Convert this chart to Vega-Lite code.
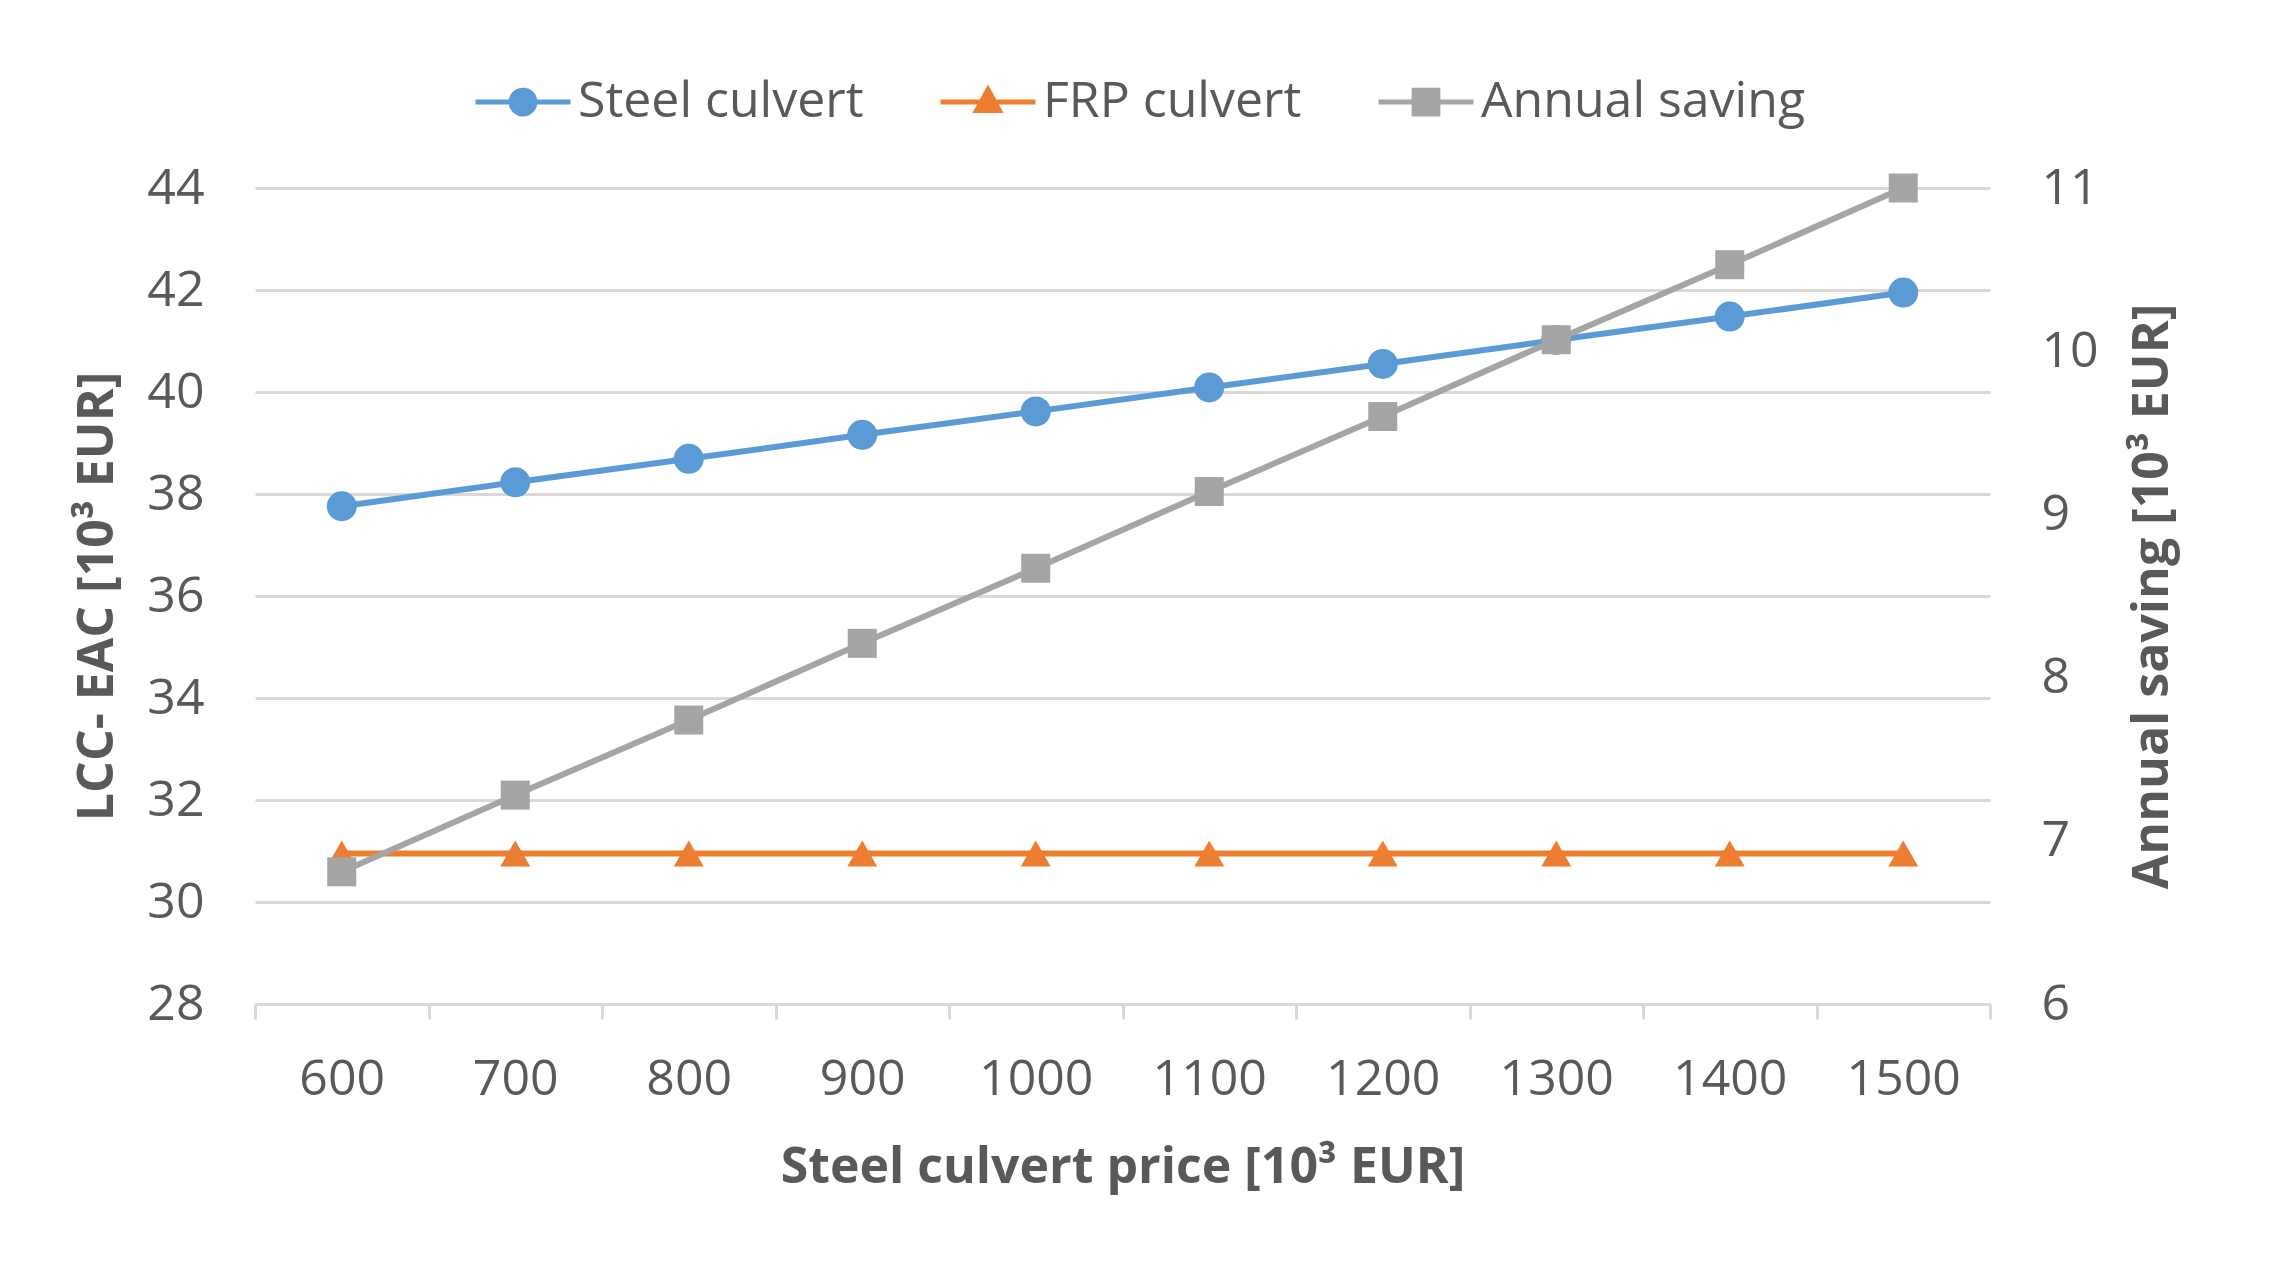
{
  "$schema": "https://vega.github.io/schema/vega-lite/v6.json",
  "width": 1735,
  "height": 816,
  "autosize": {"type": "none"},
  "padding": {"left": 255, "top": 188, "right": 291, "bottom": 272},
  "background": "white",
  "config": {
    "font": "Open Sans",
    "view": {"stroke": null},
    "axis": {"labelColor": "#595959", "titleColor": "#595959", "labelFontSize": 50, "titleFontSize": 50, "titleFontWeight": "bold"}
  },
  "data": {
    "values": [
      {"price": 600, "series": "Steel culvert", "axis": "left", "value": 37.76},
      {"price": 700, "series": "Steel culvert", "axis": "left", "value": 38.23},
      {"price": 800, "series": "Steel culvert", "axis": "left", "value": 38.69},
      {"price": 900, "series": "Steel culvert", "axis": "left", "value": 39.16},
      {"price": 1000, "series": "Steel culvert", "axis": "left", "value": 39.62},
      {"price": 1100, "series": "Steel culvert", "axis": "left", "value": 40.09},
      {"price": 1200, "series": "Steel culvert", "axis": "left", "value": 40.55},
      {"price": 1300, "series": "Steel culvert", "axis": "left", "value": 41.02},
      {"price": 1400, "series": "Steel culvert", "axis": "left", "value": 41.48},
      {"price": 1500, "series": "Steel culvert", "axis": "left", "value": 41.95},
      {"price": 600, "series": "FRP culvert", "axis": "left", "value": 30.95},
      {"price": 700, "series": "FRP culvert", "axis": "left", "value": 30.95},
      {"price": 800, "series": "FRP culvert", "axis": "left", "value": 30.95},
      {"price": 900, "series": "FRP culvert", "axis": "left", "value": 30.95},
      {"price": 1000, "series": "FRP culvert", "axis": "left", "value": 30.95},
      {"price": 1100, "series": "FRP culvert", "axis": "left", "value": 30.95},
      {"price": 1200, "series": "FRP culvert", "axis": "left", "value": 30.95},
      {"price": 1300, "series": "FRP culvert", "axis": "left", "value": 30.95},
      {"price": 1400, "series": "FRP culvert", "axis": "left", "value": 30.95},
      {"price": 1500, "series": "FRP culvert", "axis": "left", "value": 30.95},
      {"price": 600, "series": "Annual saving", "axis": "right", "value": 6.81},
      {"price": 700, "series": "Annual saving", "axis": "right", "value": 7.28},
      {"price": 800, "series": "Annual saving", "axis": "right", "value": 7.74},
      {"price": 900, "series": "Annual saving", "axis": "right", "value": 8.21},
      {"price": 1000, "series": "Annual saving", "axis": "right", "value": 8.67},
      {"price": 1100, "series": "Annual saving", "axis": "right", "value": 9.14},
      {"price": 1200, "series": "Annual saving", "axis": "right", "value": 9.60},
      {"price": 1300, "series": "Annual saving", "axis": "right", "value": 10.07},
      {"price": 1400, "series": "Annual saving", "axis": "right", "value": 10.53},
      {"price": 1500, "series": "Annual saving", "axis": "right", "value": 11.00}
    ]
  },
  "encoding": {
    "x": {
      "field": "price",
      "type": "ordinal",
      "bandPosition": 0.5,
      "scale": {"type": "band", "paddingInner": 0, "paddingOuter": 0, "domain": [600, 700, 800, 900, 1000, 1100, 1200, 1300, 1400, 1500]},
      "axis": {
        "title": "Steel culvert price [10³ EUR]",
        "labelAngle": 0,
        "tickBand": "extent",
        "ticks": true,
        "tickSize": 15,
        "tickWidth": 3,
        "tickColor": "#d9d9d9",
        "domain": true,
        "domainColor": "#d9d9d9",
        "domainWidth": 3,
        "labelPadding": 35,
        "titlePadding": 38,
        "grid": false
      }
    },
    "color": {
      "field": "series",
      "type": "nominal",
      "scale": {"domain": ["Steel culvert", "FRP culvert", "Annual saving"], "range": ["#5B9BD5", "#ED7D31", "#A5A5A5"]},
      "legend": {
        "title": null,
        "orient": "none",
        "direction": "horizontal",
        "legendX": 218,
        "legendY": -136,
        "labelFontSize": 50,
        "labelColor": "#595959",
        "labelOffset": 5,
        "labelLimit": 0,
        "columnPadding": 66,
        "symbolSize": 9025,
        "symbolStrokeWidth": 5,
        "padding": 0,
        "encode": {
          "symbols": {
            "enter": {
              "shape": {"signal": "datum.value === 'Steel culvert' ? 'M-1,0L1,0M-0.25,0A0.25,0.25 0 1,1 0.25,0A0.25,0.25 0 1,1 -0.25,0Z' : (datum.value === 'FRP culvert' ? 'M-1,0L1,0M0,-0.26L0.24,0.18L-0.24,0.18Z' : 'M-1,0L1,0M-0.25,-0.25L0.25,-0.25L0.25,0.25L-0.25,0.25Z')"}
            },
            "update": {
              "shape": {"signal": "datum.value === 'Steel culvert' ? 'M-1,0L1,0M-0.25,0A0.25,0.25 0 1,1 0.25,0A0.25,0.25 0 1,1 -0.25,0Z' : (datum.value === 'FRP culvert' ? 'M-1,0L1,0M0,-0.26L0.24,0.18L-0.24,0.18Z' : 'M-1,0L1,0M-0.25,-0.25L0.25,-0.25L0.25,0.25L-0.25,0.25Z')"},
              "fill": {"scale": "color", "field": "value"},
              "stroke": {"scale": "color", "field": "value"},
              "strokeWidth": {"value": 5},
              "opacity": {"value": 1},
              "fillOpacity": {"value": 1},
              "strokeOpacity": {"value": 1}
            }
          }
        }
      }
    }
  },
  "layer": [
    {
      "transform": [{"filter": "datum.axis === 'left'"}],
      "encoding": {
        "y": {
          "field": "value",
          "type": "quantitative",
          "scale": {"domain": [28, 44], "nice": false, "zero": false},
          "axis": {
            "orient": "left",
            "title": "LCC- EAC [10³ EUR]",
            "values": [28, 30, 32, 34, 36, 38, 40, 42, 44],
            "ticks": false,
            "domain": false,
            "grid": true,
            "gridColor": "#d9d9d9",
            "gridWidth": 3,
            "labelPadding": 51,
            "titlePadding": 24
          }
        }
      },
      "layer": [
        {"mark": {"type": "line", "strokeWidth": 6}},
        {
          "transform": [{"filter": "datum.series === 'Steel culvert'"}],
          "mark": {"type": "point", "shape": "circle", "filled": true, "size": 900, "opacity": 1}
        },
        {
          "transform": [{"filter": "datum.series === 'FRP culvert'"}],
          "mark": {"type": "point", "shape": "triangle-up", "filled": true, "size": 900, "opacity": 1}
        }
      ]
    },
    {
      "transform": [{"filter": "datum.axis === 'right'"}],
      "encoding": {
        "y": {
          "field": "value",
          "type": "quantitative",
          "scale": {"domain": [6, 11], "nice": false, "zero": false},
          "axis": {
            "orient": "right",
            "title": "Annual saving  [10³ EUR]",
            "values": [6, 7, 8, 9, 10, 11],
            "ticks": false,
            "domain": false,
            "grid": false,
            "labelPadding": 51,
            "titlePadding": 29,
            "titleAngle": 270,
            "titleBaseline": "top"
          }
        }
      },
      "layer": [
        {"mark": {"type": "line", "strokeWidth": 6}},
        {"mark": {"type": "point", "shape": "square", "filled": true, "size": 841, "opacity": 1}}
      ]
    }
  ],
  "resolve": {"scale": {"y": "independent"}}
}
